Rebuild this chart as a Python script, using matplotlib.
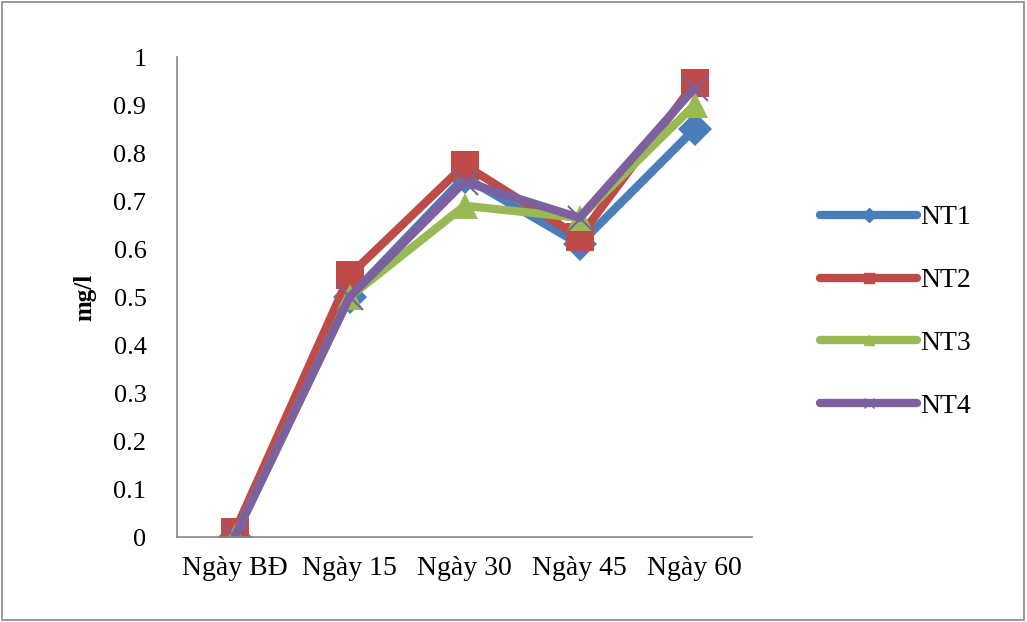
import matplotlib
matplotlib.use("Agg")
import matplotlib.pyplot as plt
from matplotlib.lines import Line2D
from matplotlib.patches import Rectangle

categories = ["Ngày BĐ", "Ngày 15", "Ngày 30", "Ngày 45", "Ngày 60"]
nt1 = [0.0, 0.50, 0.75, 0.61, 0.85]
nt2 = [0.01, 0.545, 0.775, 0.625, 0.945]
nt3 = [0.0, 0.50, 0.69, 0.665, 0.90]
nt4 = [0.0, 0.50, 0.74, 0.665, 0.935]
series_names = ["NT1", "NT2", "NT3", "NT4"]
yticks = [0, 0.1, 0.2, 0.3, 0.4, 0.5, 0.6, 0.7, 0.8, 0.9, 1]
ytick_labels = ["0", "0.1", "0.2", "0.3", "0.4", "0.5", "0.6", "0.7", "0.8", "0.9", "1"]

plt.rcParams['font.family'] = ['Liberation Serif', 'DejaVu Serif']

fig = plt.figure(figsize=(10.27, 6.22), dpi=100)
W, H = 1027, 622
ax = fig.add_axes([177 / W, 1 - 537 / H, (752 - 177) / W, (537 - 57) / H])

x = list(range(len(categories)))
styles = [
    (nt1, "#4A7EBB", "D", 17),
    (nt2, "#BE4B48", "s", 20),
    (nt3, "#98B954", "^", 19),
    (nt4, "#7D60A0", "x", 18),
]
for (vals, c, m, ms), name in zip(styles, series_names):
    kw = dict(markeredgewidth=1.5) if m == "x" else dict(markeredgewidth=0)
    ax.plot(x, vals, color=c, lw=6, marker=m, markersize=ms,
            markerfacecolor=c, markeredgecolor=c, solid_capstyle='round',
            solid_joinstyle='round', **kw)

ax.set_xlim(-0.5, 4.5)
ax.set_ylim(0, 1)
ax.set_xticks(x)
ax.set_xticklabels(categories, fontsize=20)
ax.set_yticks(yticks)
ax.set_yticklabels(ytick_labels, fontsize=19)
ax.tick_params(axis='y', length=0, pad=22)
ax.tick_params(axis='x', length=0, pad=14)
for s in ["top", "right"]:
    ax.spines[s].set_visible(False)
for s in ["left", "bottom"]:
    ax.spines[s].set_color("#888888")
    ax.spines[s].set_linewidth(1.2)
ax.set_ylabel("mg/l", fontsize=18, fontweight="bold", labelpad=12)

handles = []
for (vals, c, m, ms), name in zip(styles, series_names):
    handles.append(Line2D([0], [0], color=c, lw=6, marker=m, markersize=7,
                          markerfacecolor=c, markeredgecolor=c,
                          solid_capstyle='round'))
leg = fig.legend(handles, series_names, loc='center left',
                 bbox_to_anchor=(795 / W, 1 - 312 / H), frameon=False,
                 fontsize=20, handlelength=3.5, handletextpad=0.1,
                 labelspacing=1.35)

fig.patches.append(Rectangle((0.002, 0.003), 0.995, 0.994, transform=fig.transFigure,
                             fill=False, edgecolor="#888888", linewidth=1.2))

fig.savefig("out.png", dpi=100)
